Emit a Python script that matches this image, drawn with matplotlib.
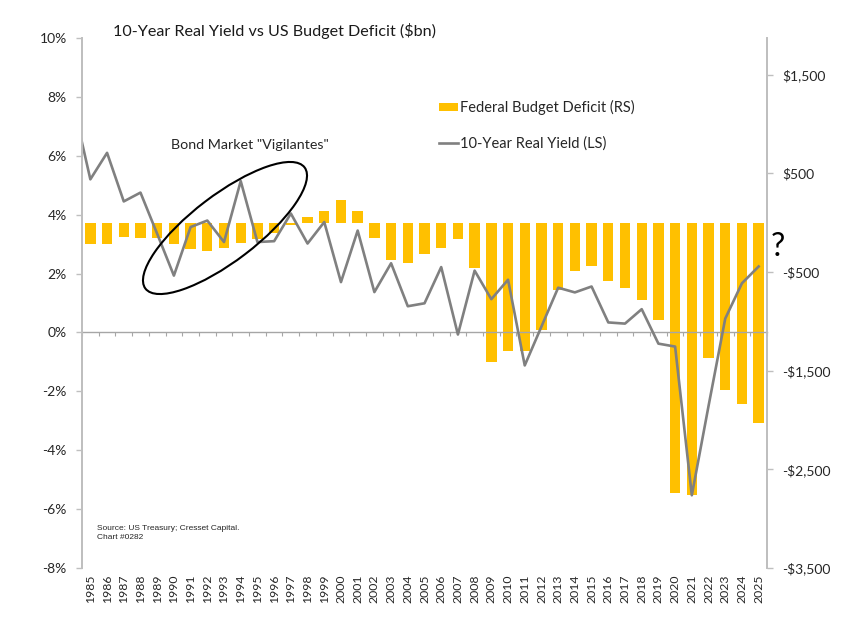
import matplotlib.pyplot as plt
from matplotlib.patches import Ellipse
from matplotlib.ticker import FuncFormatter

FONT = ['Lato', 'DejaVu Sans']
plt.rcParams['font.family'] = FONT

GOLD = '#FFC000'
LINE_GREY = '#808080'
AXIS_GREY = '#BFBFBF'

# fiscal years shown on the category axis
years = list(range(1985, 2026))

# federal budget deficit, $bn (right scale)
deficit = [-219, -221, -150, -155, -152, -221, -269, -290, -255, -203,
           -164, -107, -22, 61, 117, 226, 117, -161, -380, -414,
           -323, -253, -166, -461, -1411, -1300, -1306, -1085, -680, -488,
           -441, -588, -667, -782, -987, -2737, -2764, -1377, -1699, -1834,
           -2027]

# 10-year real yield, % (left scale); line starts one year earlier and is clipped
yield_years = list(range(1984, 2026))
real_yield = [7.7, 5.2, 6.1, 4.45, 4.75, 3.35, 1.93, 3.58, 3.80, 3.07,
              5.14, 3.07, 3.10, 4.04, 3.02, 3.75, 1.71, 3.46, 1.37, 2.35,
              0.89, 0.99, 2.22, -0.07, 2.10, 1.13, 1.79, -1.12, 0.20, 1.52,
              1.36, 1.56, 0.34, 0.30, 0.79, -0.38, -0.48, -5.53, -2.50, 0.47,
              1.67, 2.24]

left_ticks = [-8, -6, -4, -2, 0, 2, 4, 6, 8, 10]
right_ticks = [-3500, -2500, -1500, -500, 500, 1500]


def dollars(v, pos=None):
    s = '${:,.0f}'.format(abs(v))
    return '-' + s if v < 0 else s


fig = plt.figure(figsize=(8.65, 6.28), dpi=100)
ax = fig.add_axes([82 / 865, 1 - 568 / 628, 685 / 865, 530 / 628])
ax2 = ax.twinx()
ax2.set_zorder(ax.get_zorder() - 1)
ax.patch.set_visible(False)

# bars on the right scale
x_bar = [y - years[0] for y in years]
bars = ax2.bar(x_bar, deficit, width=0.62, color=GOLD,
               label='Federal Budget Deficit (RS)')
ax2.set_ylim(-3500, 1870)
ax2.set_yticks(right_ticks)
ax2.yaxis.set_major_formatter(FuncFormatter(dollars))

# yield line on the left scale
x_line = [y - years[0] for y in yield_years]
line, = ax.plot(x_line, real_yield, color=LINE_GREY, lw=1.9,
                label='10-Year Real Yield (LS)')
ax.set_ylim(-8, 10)
ax.set_yticks(left_ticks)
ax.yaxis.set_major_formatter(FuncFormatter(lambda v, p: '%d%%' % v))
ax.set_xlim(-0.5, len(years) - 0.5)

ax.set_xticks(x_bar)
ax.set_xticklabels([str(y) for y in years], rotation=90)
ax.tick_params(axis='x', length=0, pad=5, labelsize=8.8, colors='#262626')
ax.tick_params(axis='y', length=4, width=1, color=AXIS_GREY,
               labelsize=10, labelcolor='#262626', pad=7)
ax2.tick_params(axis='y', length=4, width=1, color=AXIS_GREY,
                labelsize=10, labelcolor='#262626', pad=7)

for a in (ax, ax2):
    a.spines['top'].set_visible(False)
    a.spines['bottom'].set_visible(False)
    a.spines['left'].set_color(AXIS_GREY)
    a.spines['right'].set_color(AXIS_GREY)
    a.spines['left'].set_linewidth(1.3)
    a.spines['right'].set_linewidth(1.3)

# category axis drawn through 0%
zero_axis = ax.secondary_xaxis(8 / 18)
zero_axis.set_xticks([i - 0.5 for i in range(len(years) + 1)])
zero_axis.set_xticklabels([])
zero_axis.tick_params(length=3, width=0.8, color='#A6A6A6', direction='out')
zero_axis.spines['bottom'].set_color('#A6A6A6')
zero_axis.spines['bottom'].set_linewidth(1)

fig.legend(handles=[bars, line], loc='upper left',
           bbox_to_anchor=(426 / 865, 1 - 87 / 628), frameon=False,
           fontsize=10.5, handlelength=1.3, handleheight=0.4,
           handletextpad=0.1, labelspacing=1.45, labelcolor='#262626')

fig.text(113 / 865, 1 - 31 / 628,
         '10-Year Real Yield vs US Budget Deficit ($bn)',
         fontsize=11.6, color='#1a1a1a', va='center', ha='left')

# annotation overlay in pixel units
over = fig.add_axes([0, 0, 1, 1])
over.set_xlim(0, 865)
over.set_ylim(628, 0)
over.axis('off')
over.add_patch(Ellipse((225, 228), 200, 66, angle=-37.3, fill=False,
                       edgecolor='black', lw=1.5))
over.text(250, 145, 'Bond Market "Vigilantes"', fontsize=10.3,
          color='#262626', ha='center', va='center')
over.text(778, 247, '?', fontsize=23, color='black', ha='center',
          va='center')
over.text(97, 533, 'Source: US Treasury; Cresset Capital.\nChart #0282',
          fontsize=6, family=['Liberation Sans', 'DejaVu Sans'],
          color='#262626', ha='left', va='center', linespacing=1.25)

fig.savefig('out.png', dpi=100)
